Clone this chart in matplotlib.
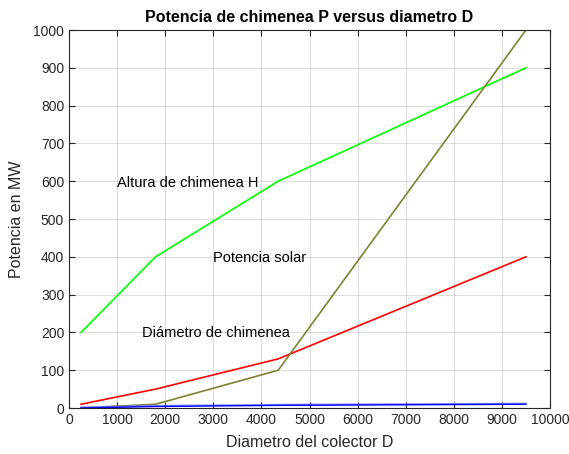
import matplotlib
matplotlib.use("Agg")
import matplotlib.pyplot as plt

plt.rcParams["font.family"] = ["Liberation Sans", "DejaVu Sans"]

diametro = [250, 1800, 4350, 9500]
altura_h = [200, 400, 600, 900]
potencia_solar = [10, 50, 130, 400]
potencia_chimenea = [0, 10, 100, 1000]
diametro_chimenea = [0, 4, 7, 10]
diametro_chimenea_b = [2, 6, 9, 12]

dark = (0.15, 0.15, 0.15)

fig = plt.figure(figsize=(5.69, 4.54), dpi=100)
ax = fig.add_axes([0.1213, 0.1013, 0.8453, 0.8326])

ax.plot(diametro, altura_h, color=(0, 1, 0), lw=1.2)
ax.plot(diametro, potencia_solar, color=(1, 0, 0), lw=1.2)
ax.plot(diametro, potencia_chimenea, color=(0.5, 0.5, 0.2), lw=1.2)
ax.plot(diametro, diametro_chimenea_b, color=(0.45, 0.45, 1.0), lw=1.2, alpha=0.8)
ax.plot(diametro, diametro_chimenea, color=(0, 0, 1), lw=1.0)

ax.text(1000, 595, "Altura de chimenea H", fontsize=10.5, va="center")
ax.text(3000, 397, "Potencia solar", fontsize=10.5, va="center")
ax.text(1520, 198, "Diámetro de chimenea", fontsize=10.5, va="center")

ax.set_xlim(0, 10000)
ax.set_ylim(0, 1000)
ax.set_xticks(range(0, 10001, 1000))
ax.set_yticks(range(0, 1001, 100))
ax.grid(True, color=dark, alpha=0.15, lw=0.8)
ax.tick_params(direction="in", top=True, right=True, labelsize=10,
               colors=dark, length=4)
for s in ax.spines.values():
    s.set_color(dark)
ax.set_xlabel("Diametro del colector D", fontsize=11.5, color=dark, labelpad=6)
ax.set_ylabel("Potencia en MW", fontsize=11.5, color=dark, labelpad=7)
ax.set_title("Potencia de chimenea P versus diametro D", fontsize=11.5, fontweight="bold")

fig.savefig("out.png", dpi=100)
